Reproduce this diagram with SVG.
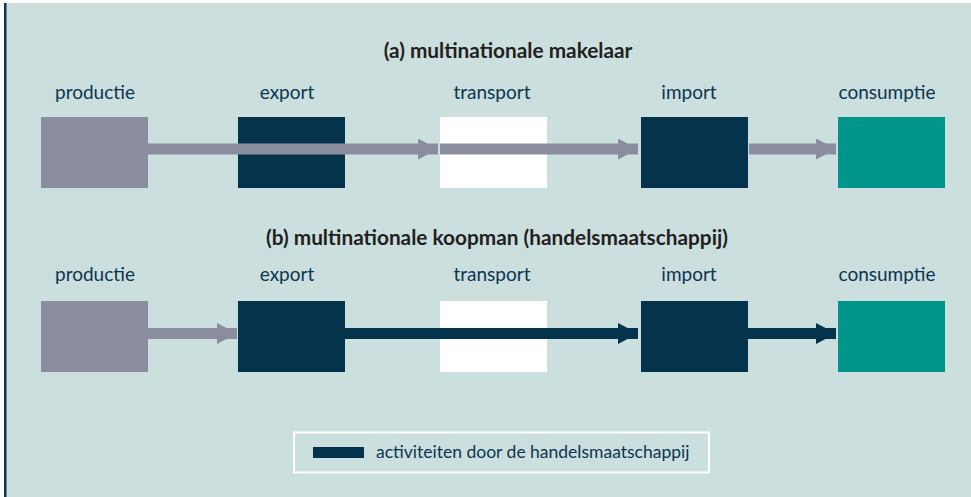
<svg xmlns="http://www.w3.org/2000/svg" width="971" height="497" viewBox="0 0 971 497">
<style>
.lbl{font-family:Lato,"Open Sans","Liberation Sans",sans-serif;font-size:19px;fill:#0b3550;text-anchor:middle}
.ttl{font-family:Lato,"Open Sans","Liberation Sans",sans-serif;font-size:20.8px;font-weight:bold;fill:#231f20;text-anchor:middle}
.leg{font-family:Lato,"Open Sans","Liberation Sans",sans-serif;font-size:17.5px;fill:#0b3550}
.gray{fill:#8a8d9e}.navy{fill:#06334c}.white{fill:#ffffff}.teal{fill:#00958a}
</style>
<defs>
<marker id="ahg" viewBox="0 0 20 21" refX="20" refY="10.5" markerWidth="20" markerHeight="21" markerUnits="userSpaceOnUse" orient="auto"><path d="M0,0 L20,10.5 L0,21 Z" fill="#8a8d9e"/></marker>
<marker id="ahn" viewBox="0 0 20 21" refX="20" refY="10.5" markerWidth="20" markerHeight="21" markerUnits="userSpaceOnUse" orient="auto"><path d="M0,0 L20,10.5 L0,21 Z" fill="#06334c"/></marker>
</defs>
<rect x="0" y="0" width="971" height="497" fill="#ffffff"/>
<rect x="5" y="3" width="966" height="494" fill="#cbdfde"/>
<rect x="4" y="3" width="2.5" height="494" fill="#0b3550"/>
<text class="ttl" x="508" y="58">(a) multinationale makelaar</text>
<text class="ttl" x="497" y="245">(b) multinationale koopman (handelsmaatschappij)</text>
<g id="a-productie"><text class="lbl" x="95" y="99">productie</text><rect class="gray" x="41" y="117" width="107" height="71"/></g>
<g id="a-export"><text class="lbl" x="287" y="99">export</text><rect class="navy" x="238" y="117" width="107" height="71"/></g>
<g id="a-transport"><text class="lbl" x="492" y="99">transport</text><rect class="white" x="440" y="117" width="107" height="71"/></g>
<g id="a-import"><text class="lbl" x="689" y="99">import</text><rect class="navy" x="641" y="117" width="107" height="71"/></g>
<g id="a-consumptie"><text class="lbl" x="887" y="99">consumptie</text><rect class="teal" x="838" y="117" width="107" height="71"/></g>
<g id="b-productie"><text class="lbl" x="95" y="281">productie</text><rect class="gray" x="41" y="301" width="107" height="71"/></g>
<g id="b-export"><text class="lbl" x="287" y="281">export</text><rect class="navy" x="238" y="301" width="107" height="71"/></g>
<g id="b-transport"><text class="lbl" x="492" y="281">transport</text><rect class="white" x="440" y="301" width="107" height="71"/></g>
<g id="b-import"><text class="lbl" x="689" y="281">import</text><rect class="navy" x="641" y="301" width="107" height="71"/></g>
<g id="b-consumptie"><text class="lbl" x="887" y="281">consumptie</text><rect class="teal" x="838" y="301" width="107" height="71"/></g>
<g id="connectors" fill="none" stroke-width="11">
<line x1="148" y1="149" x2="438" y2="149" stroke="#8a8d9e" marker-end="url(#ahg)"/>
<line x1="440" y1="149" x2="638" y2="149" stroke="#8a8d9e" marker-end="url(#ahg)"/>
<line x1="749" y1="149" x2="836" y2="149" stroke="#8a8d9e" marker-end="url(#ahg)"/>
<line x1="148" y1="333.5" x2="237" y2="333.5" stroke="#8a8d9e" marker-end="url(#ahg)"/>
<line x1="345" y1="333.5" x2="638" y2="333.5" stroke="#06334c" marker-end="url(#ahn)"/>
<line x1="748" y1="333.5" x2="836" y2="333.5" stroke="#06334c" marker-end="url(#ahn)"/>
</g>
<g id="legend">
<rect x="294" y="432.5" width="415" height="40" fill="none" stroke="#ffffff" stroke-width="2"/>
<rect x="313" y="447" width="51" height="11" fill="#06334c"/>
<text class="leg" x="376" y="458">activiteiten door de handelsmaatschappij</text>
</g>
</svg>
